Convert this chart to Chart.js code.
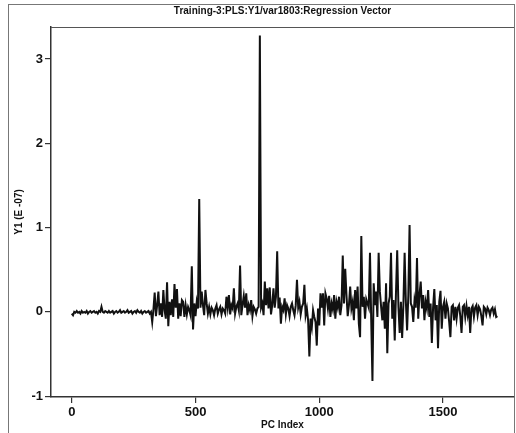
<!DOCTYPE html>
<html>
<head>
<meta charset="utf-8">
<script src="https://cdn.jsdelivr.net/npm/chart.js@4/dist/chart.umd.min.js"></script>
<style>
  html, body { margin: 0; padding: 0; background: #fff; }
  #wrap { width: 516px; height: 433px; }
</style>
</head>
<body>
<div id="wrap"><canvas id="myChart" width="516" height="433"></canvas></div>
<script>
const chartTitle = 'Training-3:PLS:Y1/var1803:Regression Vector';
const xTitle = 'PC Index';
const yTitle = 'Y1 (E -07)';
const xTicks = [0, 500, 1000, 1500];
const yTicks = [-1, 0, 1, 2, 3];

// one value every 5 PC index units
const pcStep = 5;
const regression = [
    -0.02, -0.04, 0.00, -0.01, 0.01, -0.01, 0.00, -0.02, 0.01, -0.01,
    0.00, -0.01, 0.01, -0.02, 0.00, 0.01, -0.01, 0.00, 0.01, -0.01,
    0.00, -0.02, 0.01, 0.00, 0.06, 0.00, -0.01, 0.01, 0.00, -0.01,
    0.01, -0.01, 0.00, 0.01, -0.02, 0.00, 0.01, -0.01, 0.00, 0.02,
    -0.01, 0.00, 0.01, -0.01, 0.00, 0.02, -0.01, 0.00, 0.01, -0.02,
    0.00, 0.01, -0.01, 0.02, 0.00, -0.01, 0.01, -0.02, 0.00, 0.01,
    -0.01, 0.00, 0.01, -0.02, 0.00, -0.12, 0.03, 0.23, -0.05, 0.08,
    0.24, -0.04, 0.10, -0.06, 0.26, 0.02, -0.08, 0.35, -0.17, 0.12,
    -0.04, 0.15, -0.06, 0.33, 0.05, 0.27, -0.08, 0.10, -0.05, 0.14,
    0.12, -0.06, 0.08, -0.03, 0.06, 0.02, -0.04, 0.54, -0.21, 0.10,
    -0.05, 0.12, 0.04, 1.34, 0.05, 0.24, 0.08, -0.04, 0.26, 0.10,
    -0.02, 0.06, -0.03, 0.05, 0.02, -0.04, 0.04, 0.08, -0.02, 0.03,
    0.06, -0.03, 0.04, 0.02, -0.02, 0.18, 0.05, 0.20, -0.03, 0.08,
    0.04, 0.28, -0.02, 0.06, 0.10, 0.02, 0.55, -0.04, 0.08, 0.19,
    0.05, 0.22, -0.04, 0.08, 0.02, 0.14, -0.05, 0.06, 0.03, -0.02,
    0.04, 0.06, 3.28, 0.05, 0.10, -0.04, 0.36, 0.08, 0.28, 0.04,
    0.29, -0.03, 0.08, 0.28, 0.05, 0.18, 0.72, 0.04, 0.17, -0.14,
    0.06, 0.02, 0.16, -0.03, 0.08, 0.04, -0.05, 0.06, 0.10, 0.02,
    -0.04, 0.08, 0.38, 0.05, 0.12, -0.03, 0.06, 0.10, 0.32, -0.04,
    0.04, -0.10, -0.53, -0.08, -0.18, 0.02, -0.06, -0.12, -0.40, 0.04,
    -0.16, 0.22, 0.05, 0.22, -0.16, 0.22, 0.16, 0.04, 0.19, -0.06,
    0.10, 0.03, 0.20, -0.08, 0.12, 0.05, 0.18, -0.04, 0.08, 0.67,
    0.10, 0.51, 0.20, -0.05, 0.08, 0.30, 0.04, 0.12, -0.10, 0.26,
    0.04, 0.30, -0.14, -0.30, 0.90, 0.06, 0.18, -0.08, 0.15, 0.10,
    0.05, 0.70, -0.10, -0.82, 0.34, 0.08, 0.24, -0.06, 0.70, 0.24,
    0.06, -0.10, 0.12, -0.20, 0.34, -0.49, 0.10, 0.18, 0.70, -0.08,
    0.14, -0.34, 0.22, 0.73, 0.06, -0.25, 0.12, -0.31, 0.08, 0.70,
    0.12, -0.22, 0.20, 1.03, 0.10, 0.06, -0.12, 0.14, 0.05, 0.64,
    -0.08, 0.20, 0.36, 0.04, 0.20, -0.10, 0.12, 0.04, 0.26, -0.06,
    0.10, -0.37, 0.05, 0.27, -0.10, 0.08, -0.43, 0.12, 0.25, -0.20,
    0.06, 0.12, -0.08, 0.10, 0.04, -0.12, -0.30, 0.06, 0.08, -0.10,
    0.06, -0.08, 0.05, 0.08, -0.05, -0.25, 0.06, 0.08, -0.06, 0.07,
    -0.04, 0.06, -0.25, 0.04, 0.07, -0.06, 0.05, 0.08, -0.04, 0.06,
    0.03, -0.05, -0.16, 0.06, 0.04, -0.03, 0.05, 0.02, -0.04, 0.03,
    0.05, -0.02, 0.03, -0.06, -0.05
];

function buildPoints() {
    let pts = [];
    regression.forEach((v, i) => {
        pts.push({x: i * pcStep, y: v});
    });
    return pts;
}

// outer frame, plot box and the title line
const framePlugin = {
    id: 'frame',
    beforeDraw(chart) {
        const ctx = chart.ctx;
        ctx.save();
        ctx.fillStyle = '#fff';
        ctx.fillRect(0, 0, chart.width, chart.height);
        ctx.strokeStyle = '#777';
        ctx.lineWidth = 1;
        ctx.strokeRect(8.5, 4.5, 506, 440);
        ctx.restore();
    },
    afterDraw(chart) {
        const ctx = chart.ctx;
        const a = chart.chartArea;
        ctx.save();
        ctx.strokeStyle = '#555';
        ctx.lineWidth = 1;
        ctx.beginPath();
        ctx.moveTo(a.left, a.top + 0.5);
        ctx.lineTo(a.right, a.top + 0.5);
        ctx.stroke();
        ctx.fillStyle = '#111';
        ctx.font = 'bold 10px "Liberation Sans", Arial, sans-serif';
        ctx.textAlign = 'center';
        ctx.textBaseline = 'middle';
        ctx.fillText(chartTitle, (a.left + a.right) / 2, 11);
        ctx.restore();
    }
};

const tickFont = {family: '"Liberation Sans", Arial, sans-serif', size: 13, weight: 'bold'};
const titleFont = {family: '"Liberation Sans", Arial, sans-serif', size: 10, weight: 'bold'};

function drawChart() {
    const ctx = document.getElementById('myChart');
    new Chart(ctx, {
        type: 'line',
        data: {
            datasets: [{
                data: buildPoints(),
                borderColor: '#111',
                borderWidth: 2,
                pointRadius: 0,
                tension: 0,
                fill: false
            }]
        },
        options: {
            responsive: false,
            animation: false,
            layout: {padding: {left: 9, top: 27, right: 2, bottom: 0}},
            plugins: {
                legend: {display: false},
                tooltip: {enabled: false},
                title: {display: false}
            },
            scales: {
                x: {
                    type: 'linear',
                    min: -84,
                    max: 1787,
                    afterBuildTicks: s => { s.ticks = xTicks.map(v => ({value: v})); },
                    afterFit: s => { s.height = 36; },
                    grid: {display: true, drawOnChartArea: false, tickLength: 6, color: '#333', lineWidth: 1.2},
                    border: {display: true, color: '#333', width: 1.5},
                    ticks: {
                        color: '#111',
                        padding: 2,
                        maxRotation: 0,
                        font: tickFont,
                        callback: v => String(v)
                    },
                    title: {
                        display: true,
                        text: xTitle,
                        color: '#111',
                        padding: {top: 0, bottom: 2},
                        font: titleFont
                    }
                },
                y: {
                    min: -1.01,
                    max: 3.38,
                    afterBuildTicks: s => { s.ticks = yTicks.map(v => ({value: v})); },
                    afterFit: s => { s.width = 42; },
                    grid: {display: true, drawOnChartArea: false, tickLength: 6, color: '#333', lineWidth: 1.2},
                    border: {display: true, color: '#333', width: 1.5},
                    ticks: {
                        color: '#111',
                        padding: 2,
                        font: tickFont,
                        callback: v => String(v)
                    },
                    title: {
                        display: true,
                        text: yTitle,
                        color: '#111',
                        padding: {top: 4, bottom: 0},
                        font: titleFont
                    }
                }
            }
        },
        plugins: [framePlugin]
    });
}

window.addEventListener('load', evt => drawChart());
</script>
</body>
</html>
